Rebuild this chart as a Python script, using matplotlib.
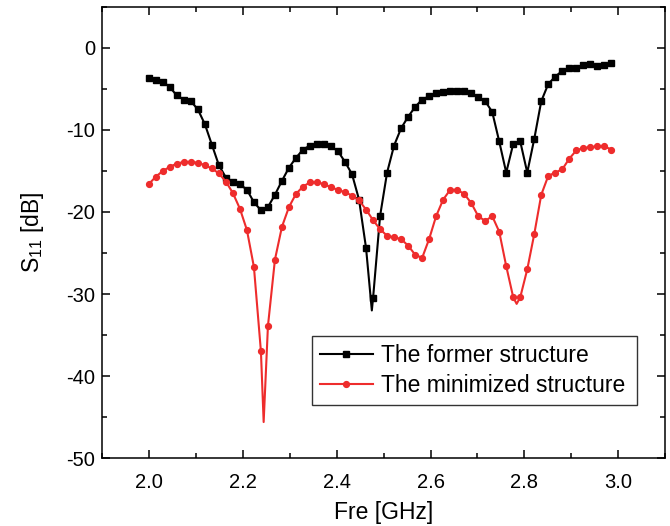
import numpy as np
import matplotlib
matplotlib.use("Agg")
import matplotlib.pyplot as plt
from matplotlib.ticker import MultipleLocator

plt.rcParams['font.family'] = ['Liberation Sans', 'DejaVu Sans']
plt.rcParams['axes.unicode_minus'] = False

freq = 2.0 + np.arange(67) / 67.0

former = [-3.7, -3.9, -4.1, -4.8, -5.8, -6.3, -6.5, -7.5, -9.3, -11.8,
          -14.3, -15.8, -16.3, -16.6, -17.3, -18.8, -19.8, -19.4, -17.9, -16.2,
          -14.6, -13.4, -12.4, -11.9, -11.7, -11.7, -12.0, -12.6, -13.9, -15.4,
          -18.5, -24.4, -30.5, -20.5, -15.2, -11.9, -9.8, -8.4, -7.2, -6.3,
          -5.9, -5.5, -5.4, -5.3, -5.2, -5.2, -5.5, -6.0, -6.5, -7.8,
          -11.4, -15.2, -11.7, -11.4, -15.2, -11.1, -6.5, -4.4, -3.5, -2.8,
          -2.5, -2.4, -2.1, -2.0, -2.2, -2.1, -1.9]

minimized = [-16.6, -15.7, -15.0, -14.5, -14.1, -13.9, -13.9, -14.0, -14.3, -14.7,
             -15.3, -16.3, -17.7, -19.6, -22.2, -26.7, -37.0, -33.9, -25.8, -21.8,
             -19.4, -17.8, -16.9, -16.4, -16.4, -16.6, -17.0, -17.3, -17.6, -18.0,
             -18.6, -19.7, -21.0, -22.1, -22.9, -23.1, -23.3, -24.1, -25.2, -25.6,
             -23.3, -20.5, -18.5, -17.3, -17.3, -17.8, -18.9, -20.5, -21.1, -20.5,
             -22.4, -26.6, -30.4, -30.4, -27.0, -22.7, -17.9, -15.6, -15.2, -14.8,
             -13.5, -12.5, -12.2, -12.1, -12.0, -12.0, -12.4]

# resonance minima between markers (the curve dips below the marked samples)
former_tip_f = [2.475]
former_tip_v = [-32.0]
minimized_tip_f = [2.2446, 2.7834]
minimized_tip_v = [-45.6, -31.2]


def merge(f, v, tf, tv):
    x = np.concatenate([f, tf])
    y = np.concatenate([v, tv])
    order = np.argsort(x)
    x, y = x[order], y[order]
    is_sample = np.isin(order, np.arange(len(f)))
    return x, y, np.where(is_sample)[0]


fig = plt.figure(figsize=(6.7, 5.26), dpi=100)
ax = fig.add_axes([0.152, 0.129, 0.841, 0.858])

x1, y1, m1 = merge(freq, former, former_tip_f, former_tip_v)
x2, y2, m2 = merge(freq, minimized, minimized_tip_f, minimized_tip_v)

ax.plot(x1, y1, color='black', lw=1.5, marker='s', ms=3.8, markevery=list(m1),
        label='The former structure')
ax.plot(x2, y2, color='#EE2C2C', lw=1.5, marker='o', ms=4.2, markevery=list(m2),
        label='The minimized structure')

ax.set_xlim(1.9, 3.1)
ax.set_ylim(-50, 5)
ax.xaxis.set_major_locator(MultipleLocator(0.2))
ax.xaxis.set_minor_locator(MultipleLocator(0.1))
ax.yaxis.set_major_locator(MultipleLocator(10))
ax.yaxis.set_minor_locator(MultipleLocator(5))
ax.xaxis.set_major_formatter(matplotlib.ticker.FormatStrFormatter('%.1f'))
ax.tick_params(which='both', direction='in', top=True, right=True, labelsize=14.5, width=1.1)
ax.tick_params(which='major', length=6)
ax.tick_params(which='minor', length=3.5)
ax.tick_params(axis='x', pad=11)
ax.tick_params(axis='y', pad=5)
for s in ax.spines.values():
    s.set_linewidth(1.1)

ax.set_xlabel('Fre [GHz]', fontsize=16.5, labelpad=6)
ax.set_ylabel('S$_{\\mathregular{11}}$ [dB]', fontsize=16.5, labelpad=14)

leg = ax.legend(loc='lower left', bbox_to_anchor=(0.373, 0.118, 0.577, 0.144), mode='expand',
                fontsize=16.5, frameon=True, fancybox=False, edgecolor='black',
                handlelength=2.3, handletextpad=0.35, labelspacing=0.3,
                borderpad=0.35, borderaxespad=0.0)
leg.get_frame().set_linewidth(1.0)

fig.savefig('out.png', dpi=100)
